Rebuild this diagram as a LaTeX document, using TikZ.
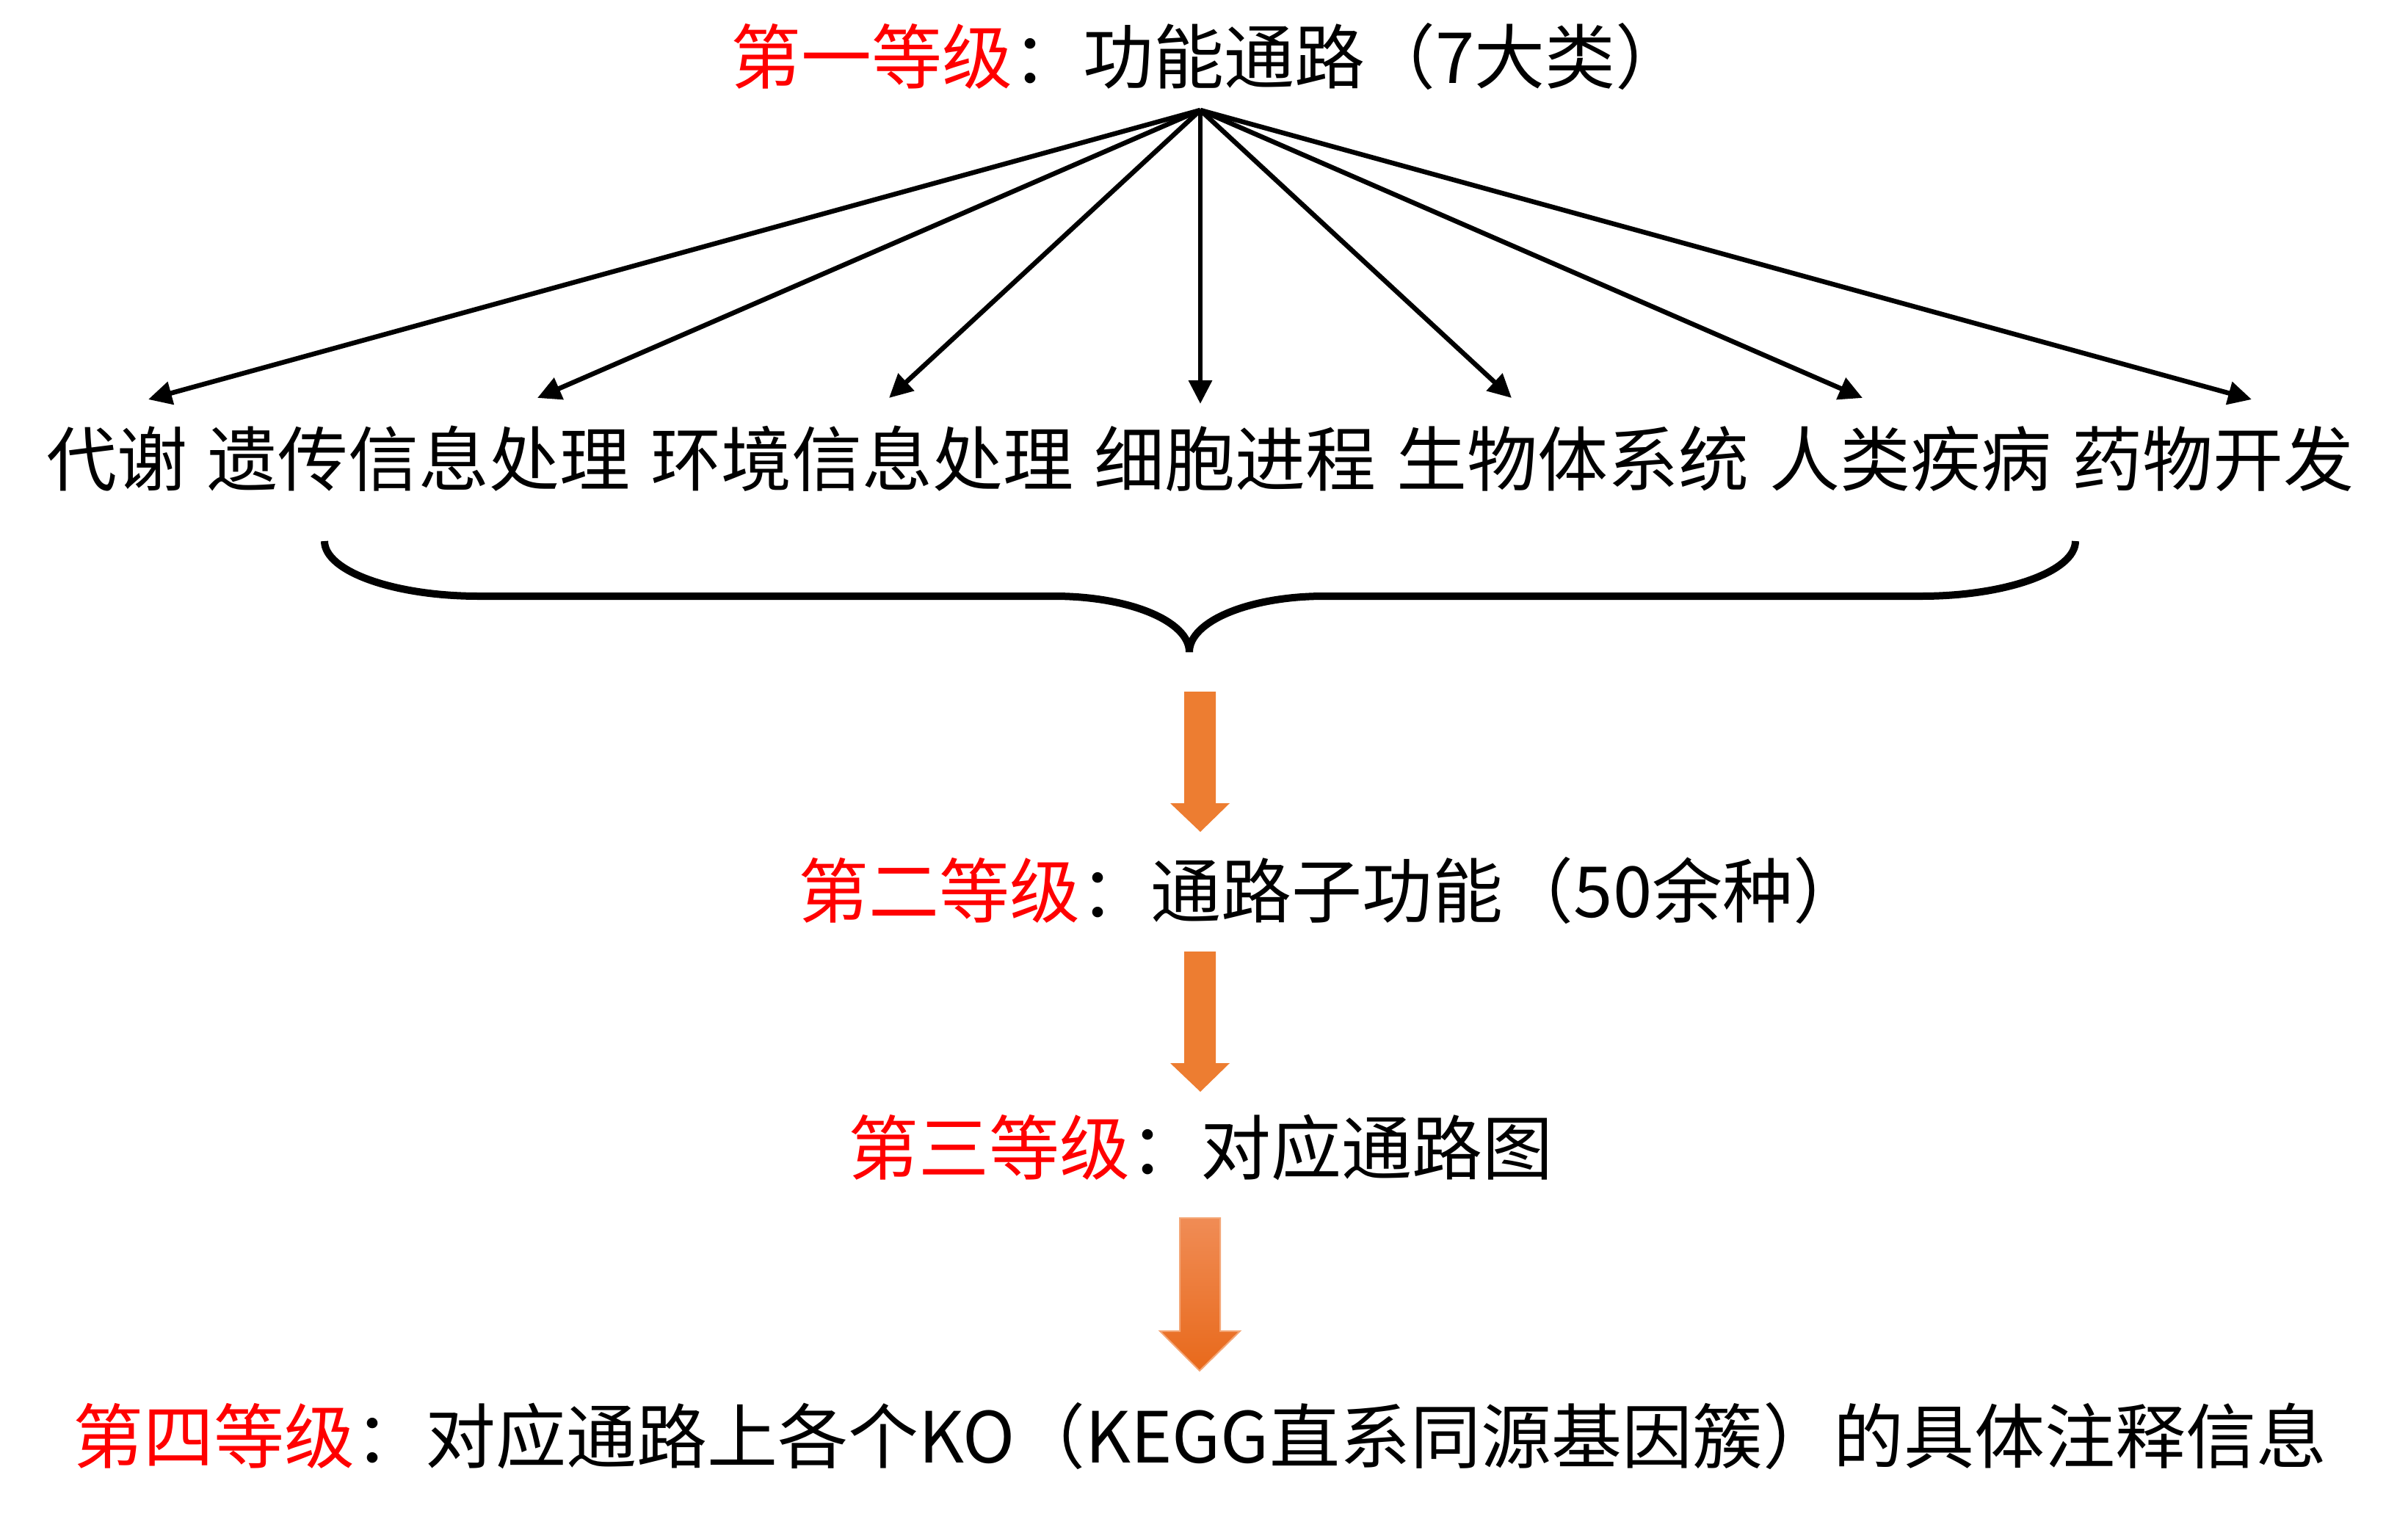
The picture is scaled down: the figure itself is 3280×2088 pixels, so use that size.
\documentclass[tikz,border=0pt]{standalone}
\usepackage{fontspec}
\setmainfont{Noto Sans CJK SC}
\usetikzlibrary{arrows.meta}
\definecolor{orangeA}{HTML}{ED7D31}
\definecolor{orangeTop}{HTML}{F08C55}
\definecolor{orangeBot}{HTML}{E8691B}
\definecolor{orangeEdge}{HTML}{F4A676}
\definecolor{lvred}{HTML}{FF0000}
\begin{document}
\begin{tikzpicture}[x=1pt,y=-1pt,
  txt/.style={inner sep=0pt, anchor=center, font=\fontsize{96pt}{110pt}\selectfont},
  conn/.style={line width=6.5pt, -{Triangle[length=32pt,width=31pt]}},
  bracestroke/.style={line width=10pt},
  blockarrow/.style={fill=orangeA},
  shadedarrow/.style={top color=orangeTop, bottom color=orangeBot, draw=orangeEdge, line width=2pt}]
\useasboundingbox (0,0) rectangle (3280,2088);

% level 1
\node[txt] (l1) at (1646,77) {\textcolor{lvred}{第一等级}：功能通路（7大类）};
\coordinate (apex) at (1635,150);

% seven categories
\node[txt] (cats) at (1635,625) {代谢\hspace{28pt}遗传信息处理\hspace{28pt}环境信息处理\hspace{28pt}细胞进程\hspace{28pt}生物体系统\hspace{28pt}人类疾病\hspace{28pt}药物开发};
\coordinate (t1) at (202,544);
\coordinate (t2) at (732,542);
\coordinate (t3) at (1211,542);
\coordinate (t4) at (1635,550);
\coordinate (t5) at (2059,542);
\coordinate (t6) at (2537,542);
\coordinate (t7) at (3067,544);
\foreach \i in {1,...,7} \draw[conn] (apex) -- (t\i);

% brace
\draw[bracestroke] (442,737) .. controls (442,778) and (536,812) .. (652,812)
  -- (1436,812) .. controls (1538,812) and (1620,846) .. (1620,888)
  .. controls (1620,846) and (1702,812) .. (1804,812)
  -- (2617,812) .. controls (2733,812) and (2827,778) .. (2827,737);

% orange arrow 1
\fill[blockarrow] (1613,942) -- (1656,942) -- (1656,1094) -- (1675,1094) -- (1635,1133)
  -- (1594,1094) -- (1613,1094) -- cycle;

% level 2
\node[txt] (l2) at (1813,1213) {\textcolor{lvred}{第二等级}：通路子功能（50余种）};

% orange arrow 2
\fill[blockarrow] (1613,1296) -- (1656,1296) -- (1656,1448) -- (1675,1448) -- (1635,1487)
  -- (1594,1448) -- (1613,1448) -- cycle;

% level 3
\node[txt] (l3) at (1635,1563) {\textcolor{lvred}{第三等级}：对应通路图};

% orange arrow 3 (shaded)
\shade[shadedarrow] (1607,1659) -- (1662,1659) -- (1662,1813) -- (1689,1813) -- (1634,1867)
  -- (1580,1813) -- (1607,1813) -- cycle;

% level 4
\node[txt] (l4) at (1634,1956) {\textcolor{lvred}{第四等级}：对应通路上各个KO（KEGG直系同源基因簇）的具体注释信息};
\end{tikzpicture}
\end{document}
